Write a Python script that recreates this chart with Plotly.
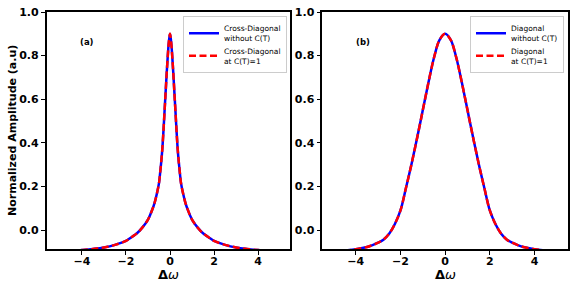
import plotly.graph_objects as go

# ---- data ----
x_a = [-5, -4.5, -4, -3.5, -3, -2.5, -2, -1.75, -1.5, -1.25, -1, -0.8, -0.7, -0.6, -0.5, -0.45, -0.4, -0.35, -0.3, -0.25,
       -0.2, -0.15, -0.1, -0.05, 0,
       0.05, 0.1, 0.15, 0.2, 0.25, 0.3, 0.35, 0.4, 0.45, 0.5, 0.6, 0.7, 0.8, 1, 1.25, 1.5, 1.75, 2, 2.5, 3, 3.5, 4, 4.5, 5]
y_a = [-0.099, -0.096, -0.092, -0.087, -0.080, -0.068, -0.050, -0.033, -0.015, 0.012, 0.048, 0.095, 0.125, 0.165, 0.215,
       0.26, 0.31, 0.37, 0.45, 0.54, 0.63, 0.72, 0.80, 0.865, 0.90,
       0.865, 0.80, 0.72, 0.63, 0.54, 0.45, 0.37, 0.31, 0.26, 0.215, 0.165, 0.125, 0.095, 0.048, 0.012, -0.015, -0.033,
       -0.050, -0.068, -0.080, -0.087, -0.092, -0.096, -0.099]

x_b = [-5, -4.5, -4, -3.5, -3.25, -3, -2.75, -2.5, -2.25, -2, -1.75, -1.5, -1.25, -1, -0.75, -0.5, -0.25, 0,
       0.25, 0.5, 0.75, 1, 1.25, 1.5, 1.75, 2, 2.25, 2.5, 2.75, 3, 3.25, 3.5, 4, 4.5, 5]
y_b = [-0.098, -0.094, -0.088, -0.078, -0.069, -0.058, -0.043, -0.016, 0.028, 0.09, 0.195, 0.305, 0.425, 0.55, 0.675,
       0.79, 0.872, 0.90,
       0.872, 0.79, 0.675, 0.55, 0.425, 0.305, 0.195, 0.09, 0.028, -0.016, -0.043, -0.058, -0.069, -0.078, -0.088,
       -0.094, -0.098]

names_a = ["Cross-Diagonal<br>without C(T)", "Cross-Diagonal<br>at C(T)=1"]
names_b = ["Diagonal<br>without C(T)", "Diagonal<br>at C(T)=1"]
panel_labels = ["(a)", "(b)"]
x_ticks = [-4, -2, 0, 2, 4]
y_ticks = [0.0, 0.2, 0.4, 0.6, 0.8, 1.0]

W, H = 576, 288
FONT = "DejaVu Sans"

fig = go.Figure()

for (xs, ys, names, xa, ya, leg) in [
    (x_a, y_a, names_a, "x", "y", "legend"),
    (x_b, y_b, names_b, "x2", "y2", "legend2"),
]:
    fig.add_trace(go.Scatter(x=xs, y=ys, name=names[0], mode="lines",
                             line=dict(color="#0000ff", width=2.5, shape="spline", smoothing=1.0),
                             xaxis=xa, yaxis=ya, legend=leg))
    fig.add_trace(go.Scatter(x=xs, y=ys, name=names[1], mode="lines",
                             line=dict(color="#ff0000", width=2.5, dash="7px,3.5px", shape="spline", smoothing=1.0),
                             xaxis=xa, yaxis=ya, legend=leg))

axis_common = dict(showline=True, linecolor="black", linewidth=1.6, mirror=True,
                   ticks="outside", ticklen=4, tickwidth=1.2, tickcolor="black",
                   showgrid=False, zeroline=False, automargin=False,
                   tickfont=dict(family=FONT, size=11, color="black", weight="bold"))

dom_a = [46.7 / W, 290 / W]
dom_b = [322.3 / W, 568 / W]
dom_y = [1 - 249 / H, 1 - 12 / H]

legend_common = dict(yanchor="top", xanchor="right", bgcolor="white", bordercolor="#cccccc", borderwidth=1,
                     font=dict(family=FONT, size=7.5, color="black"), tracegroupgap=1, itemwidth=30)

fig.update_layout(
    width=W, height=H,
    margin=dict(l=0, r=0, t=0, b=0),
    paper_bgcolor="white", plot_bgcolor="white",
    font=dict(family=FONT, color="black"),
    xaxis=dict(domain=dom_a, range=[-5.6, 5.45], tickvals=x_ticks, anchor="y", ticklabelstandoff=-3, **axis_common),
    yaxis=dict(domain=dom_y, range=[-0.087, 1.0], tickvals=y_ticks, tickformat=".1f", anchor="x", **axis_common),
    xaxis2=dict(domain=dom_b, range=[-5.5, 5.5], tickvals=x_ticks, anchor="y2", ticklabelstandoff=-3, **axis_common),
    yaxis2=dict(domain=dom_y, range=[-0.087, 1.0], tickvals=y_ticks, tickformat=".1f", anchor="x2", **axis_common),
    legend=dict(x=287 / W, y=1 - 16 / H, **legend_common),
    legend2=dict(x=564 / W, y=1 - 16 / H, **legend_common),
    showlegend=True,
)

annotations = [
    dict(text="<b>Normalized Amplitude (a.u)</b>", x=12 / W, y=1 - 131 / H, xref="paper", yref="paper",
         xanchor="center", yanchor="middle",
         textangle=-90, showarrow=False, font=dict(family=FONT, size=11)),
    dict(text="<b>Δ</b><i>ω</i>", x=(dom_a[0] + dom_a[1]) / 2, y=1 - 274 / H, xref="paper", yref="paper",
         xanchor="center", yanchor="middle", showarrow=False, font=dict(family=FONT, size=13)),
    dict(text="<b>Δ</b><i>ω</i>", x=(dom_b[0] + dom_b[1]) / 2, y=1 - 274 / H, xref="paper", yref="paper",
         xanchor="center", yanchor="middle", showarrow=False, font=dict(family=FONT, size=13)),
    dict(text="<b>" + panel_labels[0] + "</b>", x=87 / W, y=1 - 42 / H, xref="paper", yref="paper",
         xanchor="center", yanchor="middle", showarrow=False, font=dict(family=FONT, size=8.5)),
    dict(text="<b>" + panel_labels[1] + "</b>", x=363 / W, y=1 - 42 / H, xref="paper", yref="paper",
         xanchor="center", yanchor="middle", showarrow=False, font=dict(family=FONT, size=8.5)),
]
fig.update_layout(annotations=annotations)

fig.write_html("out.html", config={"displayModeBar": False},
               post_script="document.body.style.margin='0';document.body.style.padding='0';")
